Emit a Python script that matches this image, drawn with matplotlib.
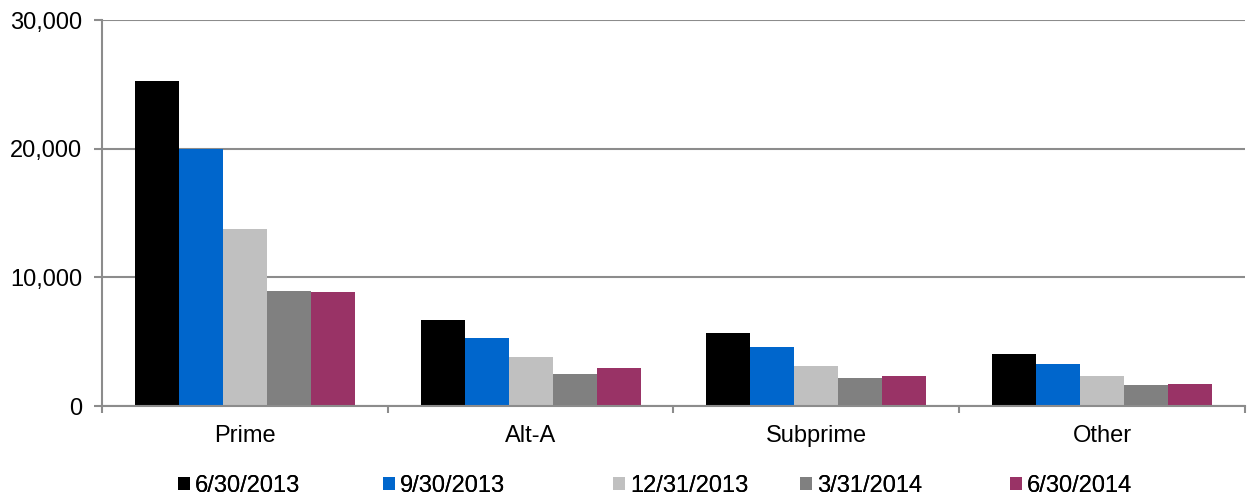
import numpy as np
import matplotlib.pyplot as plt
from matplotlib.ticker import FuncFormatter, FixedLocator
from matplotlib.patches import Patch

plt.rcParams['font.family'] = ['Liberation Sans', 'DejaVu Sans']

categories = ['Prime', 'Alt-A', 'Subprime', 'Other']
dates = ['6/30/2013', '9/30/2013', '12/31/2013', '3/31/2014', '6/30/2014']
values = {
    '6/30/2013': [25280, 6670, 5710, 4070],
    '9/30/2013': [20000, 5290, 4590, 3300],
    '12/31/2013': [13750, 3790, 3140, 2360],
    '3/31/2014': [8925, 2490, 2180, 1660],
    '6/30/2014': [8880, 2930, 2340, 1740],
}
colors = ['#000000', '#0066CC', '#C0C0C0', '#808080', '#993366']

fig = plt.figure(figsize=(12.48, 4.98), dpi=100)
ax = fig.add_axes([0.0817, 0.1847, 0.9159, 0.7751])

x = np.arange(len(categories))
w = 0.154
for i, d in enumerate(dates):
    ax.bar(x + (i - 2) * w, values[d], width=w, color=colors[i], zorder=3)

ax.set_xlim(-0.5, len(categories) - 0.5)
ax.set_ylim(0, 30000)
ax.set_yticks([0, 10000, 20000, 30000])
ax.yaxis.set_major_formatter(FuncFormatter(lambda v, p: f'{int(v):,}'))
ax.grid(axis='y', color='#8c8c8c', linewidth=1.5, zorder=0)

ax.set_xticks(x)
ax.set_xticklabels(categories)
ax.xaxis.set_minor_locator(FixedLocator(np.arange(-0.5, len(categories), 1.0)))
ax.tick_params(axis='x', which='major', length=0, pad=14, labelsize=17)
ax.tick_params(axis='x', which='minor', length=5, width=1.5, color='#8c8c8c')
ax.tick_params(axis='y', length=5.8, width=1.5, color='#8c8c8c', labelsize=17, pad=8.5)

for s in ['top', 'right']:
    ax.spines[s].set_visible(False)
for s in ['left', 'bottom']:
    ax.spines[s].set_color('#8c8c8c')
    ax.spines[s].set_linewidth(1.5)
ax.spines['left'].set_zorder(4)
ax.spines['bottom'].set_zorder(4)

# legend entries placed one by one, like the original's uneven spacing
legend_x = [178, 383, 613, 800, 1010]
for lx, c, d in zip(legend_x, colors, dates):
    leg = fig.legend(handles=[Patch(facecolor=c, label=d)], loc='center left',
                     bbox_to_anchor=(lx / 1248, 1 - 486 / 498), frameon=False,
                     fontsize=17, handlelength=0.51, handleheight=0.51,
                     handletextpad=0.2, borderpad=0, borderaxespad=0)
    fig.add_artist(leg)

fig.savefig('out.png', dpi=100)
